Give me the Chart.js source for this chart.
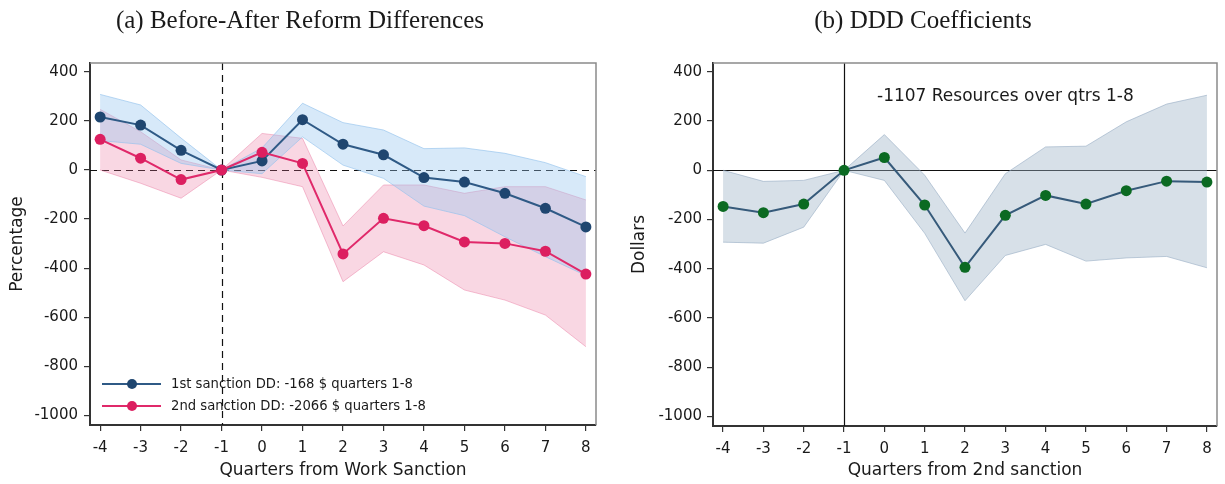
<!DOCTYPE html>
<html lang="en">
<head>
  <meta charset="UTF-8" />
  <title>Before-After Reform Differences / DDD Coefficients</title>
  <script src="https://cdn.jsdelivr.net/npm/chart.js"></script>
  <style>
    body {
      margin: 0;
      background: #fff;
      width: 1225px;
      height: 484px;
      overflow: hidden;
      position: relative;
    }
    .panel { position: absolute; top: 0; height: 484px; }
    #leftPanel { left: 0; width: 612px; }
    #rightPanel { left: 612px; width: 613px; }
    .title {
      position: absolute;
      top: 5px;
      font-family: 'Liberation Serif', serif;
      font-size: 25px;
      line-height: 30px;
      color: #1a1a1a;
      white-space: nowrap;
      transform: translateX(-50%);
    }
  </style>
</head>
<body>
  <div class="panel" id="leftPanel"><canvas id="ddChart" width="612" height="484"></canvas></div>
  <div class="panel" id="rightPanel"><canvas id="dddChart" width="613" height="484"></canvas></div>
  <div class="title" style="left:300px">(a) Before-After Reform Differences</div>
  <div class="title" style="left:923px">(b) DDD Coefficients</div>

  <script>
    // quarters relative to the sanction
    const quarters = [-4, -3, -2, -1, 0, 1, 2, 3, 4, 5, 6, 7, 8];
    const yTicks = [-1000, -800, -600, -400, -200, 0, 200, 400];

    // (a) 1st sanction DD, with confidence band
    const firstDD   = [216, 183, 80, 0, 37, 205, 105, 62, -31, -49, -95, -156, -232];
    const firstHigh = [308, 265, 130, 0, 90, 272, 193, 163, 87, 90, 68, 30, -27];
    const firstLow  = [120, 105, 27, 0, -15, 135, 20, -34, -147, -186, -272, -353, -430];

    // (a) 2nd sanction DD, with confidence band
    const secondDD   = [125, 48, -39, 0, 72, 27, -342, -197, -227, -293, -299, -331, -424];
    const secondHigh = [247, 156, 41, 0, 149, 129, -228, -61, -61, -95, -68, -68, -122];
    const secondLow  = [0, -54, -115, 0, -30, -68, -455, -333, -387, -489, -530, -591, -720];

    // (b) DDD coefficients, with confidence band
    const ddd     = [-147, -172, -137, 0, 52, -141, -394, -183, -102, -137, -83, -44, -48];
    const dddHigh = [0, -45, -41, 0, 145, -20, -255, -14, 95, 98, 197, 269, 305];
    const dddLow  = [-292, -296, -231, 0, -41, -256, -530, -346, -301, -369, -356, -350, -396];

    const legendLabels = ['1st sanction DD: -168 $ quarters 1-8', '2nd sanction DD: -2066 $ quarters 1-8'];
    const note = '-1107 Resources over qtrs 1-8';

    const sans = 'DejaVu Sans';
    const pts = arr => quarters.map((q, i) => ({ x: q, y: arr[i] }));

    function makeScales(yTitle, xTitle, yWidth, xHeight, yTitlePad, yTickPad) {
      return {
        x: {
          type: 'linear', min: -4.25, max: 8.25,
          afterBuildTicks: s => { s.ticks = quarters.map(v => ({ value: v })); },
          afterFit: s => { s.height = xHeight; },
          grid: { drawOnChartArea: false, drawTicks: true, tickLength: 6, color: '#333', lineWidth: 1.2 },
          border: { display: true, color: '#333', width: 2 },
          ticks: { color: '#1a1a1a', font: { family: sans, size: 15 }, padding: 8, maxRotation: 0, autoSkip: false,
                   callback: v => String(v) },
          title: { display: true, text: xTitle, color: '#1a1a1a', font: { family: sans, size: 17 },
                   padding: { top: 0, bottom: 3 } }
        },
        y: {
          type: 'linear', min: -1039, max: 436,
          afterBuildTicks: s => { s.ticks = yTicks.map(v => ({ value: v })); },
          afterFit: s => { s.width = yWidth; },
          grid: { drawOnChartArea: false, drawTicks: true, tickLength: 6, color: '#333', lineWidth: 1.2 },
          border: { display: true, color: '#333', width: 2 },
          ticks: { color: '#1a1a1a', font: { family: sans, size: 15 }, padding: yTickPad, autoSkip: false,
                   callback: v => String(v) },
          title: { display: true, text: yTitle, color: '#1a1a1a', font: { family: sans, size: 17 },
                   padding: { top: yTitlePad, bottom: 0 } }
        }
      };
    }

    // top/right frame + reference lines
    function framePlugin(dashed) {
      return {
        id: 'frame',
        beforeDatasetsDraw(chart) {
          const { ctx, chartArea: a, scales } = chart;
          const y0 = Math.round(scales.y.getPixelForValue(0)) + 0.5;
          const xm = Math.round(scales.x.getPixelForValue(-1)) + 0.5;
          ctx.save();
          ctx.strokeStyle = '#111';
          ctx.lineWidth = 1.2;
          if (dashed) ctx.setLineDash([7, 5]);
          ctx.beginPath();
          ctx.moveTo(a.left, y0); ctx.lineTo(a.right, y0);
          ctx.moveTo(xm, a.top); ctx.lineTo(xm, a.bottom);
          ctx.stroke();
          ctx.restore();
        },
        afterDraw(chart) {
          const { ctx, chartArea: a } = chart;
          ctx.save();
          ctx.strokeStyle = '#8a8a8a';
          ctx.lineWidth = 1.5;
          ctx.beginPath();
          ctx.moveTo(a.left, a.top); ctx.lineTo(a.right, a.top); ctx.lineTo(a.right, a.bottom);
          ctx.stroke();
          ctx.restore();
        }
      };
    }

    const legendPlugin = {
      id: 'insideLegend',
      afterDraw(chart) {
        const ctx = chart.ctx;
        const items = [
          { y: 384, line: '#2f5a86', dot: '#1f4670' },
          { y: 406, line: '#e0296a', dot: '#dc1f60' }
        ];
        ctx.save();
        ctx.font = '13.2px ' + sans;
        ctx.textBaseline = 'middle';
        items.forEach((it, i) => {
          ctx.strokeStyle = it.line;
          ctx.lineWidth = 2;
          ctx.beginPath(); ctx.moveTo(102, it.y); ctx.lineTo(161, it.y); ctx.stroke();
          ctx.fillStyle = it.dot;
          ctx.beginPath(); ctx.arc(132, it.y, 5, 0, Math.PI * 2); ctx.fill();
          ctx.fillStyle = '#1a1a1a';
          ctx.fillText(legendLabels[i], 171, it.y + 1);
        });
        ctx.restore();
      }
    };

    const notePlugin = {
      id: 'note',
      afterDraw(chart) {
        const ctx = chart.ctx;
        ctx.save();
        ctx.font = '17px ' + sans;
        ctx.fillStyle = '#1a1a1a';
        ctx.textBaseline = 'middle';
        ctx.fillText(note, 877 - 612, 97);
        ctx.restore();
      }
    };

    const bandStyle = (fill, border) => ({
      pointRadius: 0, borderWidth: 1, borderColor: border, backgroundColor: fill, order: 10
    });

    new Chart(document.getElementById('ddChart'), {
      type: 'line',
      data: {
        datasets: [
          { data: pts(firstHigh), fill: '+1', ...bandStyle('rgba(150,198,240,0.38)', 'rgba(140,190,235,0.6)') },
          { data: pts(firstLow), fill: false, ...bandStyle('rgba(150,198,240,0.38)', 'rgba(140,190,235,0.6)') },
          { data: pts(secondHigh), fill: '+1', ...bandStyle('rgba(232,110,155,0.28)', 'rgba(232,120,160,0.45)') },
          { data: pts(secondLow), fill: false, ...bandStyle('rgba(232,110,155,0.28)', 'rgba(232,120,160,0.45)') },
          { data: pts(firstDD), borderColor: '#2f5a86', borderWidth: 2, pointRadius: 5.5,
            pointBackgroundColor: '#1f4670', pointBorderWidth: 0, fill: false, order: 2 },
          { data: pts(secondDD), borderColor: '#e0296a', borderWidth: 2, pointRadius: 5.5,
            pointBackgroundColor: '#dc1f60', pointBorderWidth: 0, fill: false, order: 1 }
        ]
      },
      options: {
        responsive: false,
        animation: false,
        layout: { padding: { left: 0, top: 63, right: 16, bottom: 0 } },
        scales: makeScales('Percentage', 'Quarters from Work Sanction', 90, 59, 7, 6),
        plugins: { legend: { display: false }, tooltip: { enabled: false } }
      },
      plugins: [framePlugin(true), legendPlugin]
    });

    new Chart(document.getElementById('dddChart'), {
      type: 'line',
      data: {
        datasets: [
          { data: pts(dddHigh), fill: '+1', ...bandStyle('rgba(160,180,200,0.42)', 'rgba(150,172,195,0.6)') },
          { data: pts(dddLow), fill: false, ...bandStyle('rgba(160,180,200,0.42)', 'rgba(150,172,195,0.6)') },
          { data: pts(ddd), borderColor: '#365a7a', borderWidth: 2, pointRadius: 5.5,
            pointBackgroundColor: '#0b6a22', pointBorderWidth: 0, fill: false, order: 1 }
        ]
      },
      options: {
        responsive: false,
        animation: false,
        layout: { padding: { left: 0, top: 63, right: 8, bottom: 0 } },
        scales: makeScales('Dollars', 'Quarters from 2nd sanction', 101, 58, 17, 5),
        plugins: { legend: { display: false }, tooltip: { enabled: false } }
      },
      plugins: [framePlugin(false), notePlugin]
    });
  </script>
</body>
</html>
